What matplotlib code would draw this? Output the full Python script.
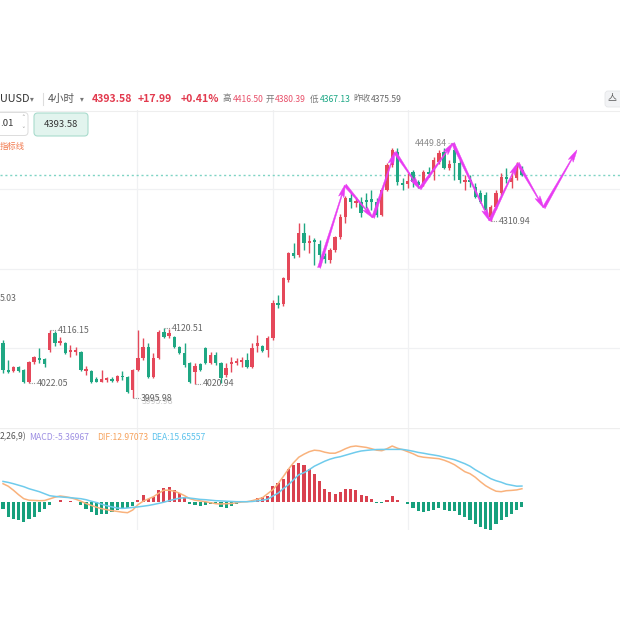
import numpy as np
import matplotlib
matplotlib.use("Agg")
import matplotlib.pyplot as plt
from matplotlib.patches import FancyBboxPatch
from matplotlib.lines import Line2D

plt.rcParams['font.family'] = ['Noto Sans CJK SC', 'DejaVu Sans']

# ── Data: 4h candles ───────────────────────────────────────────────
opens = [
    4093.9, 4045.8, 4044.0, 4051.1, 4045.8, 4024.4, 4060.0, 4067.2, 4065.4, 4081.4,
    4111.7, 4093.9, 4093.9, 4077.8, 4077.8, 4077.8, 4044.0, 4044.0, 4029.8, 4024.4,
    4028.0, 4029.8, 4026.2, 4035.1, 4033.3, 4010.2, 4045.8, 4067.2, 4086.7, 4033.3,
    4067.2, 4113.4, 4106.3, 4104.5, 4086.7, 4076.1, 4058.3, 4042.2, 4056.5, 4085.0,
    4058.3, 4072.5, 4058.3, 4036.9, 4056.5, 4058.3, 4060.0, 4063.6, 4051.1, 4088.5,
    4088.5, 4081.4, 4102.8, 4165.1, 4163.4, 4206.0, 4254.1, 4250.5, 4289.7, 4271.9,
    4277.2, 4270.1, 4248.7, 4241.6, 4259.4, 4282.5, 4318.1, 4352.0, 4343.1, 4344.8,
    4348.4, 4350.2, 4344.8, 4321.7, 4366.2, 4410.7, 4433.8, 4378.6, 4376.9, 4398.2,
    4380.4, 4378.6, 4398.2, 4398.2, 4416.0, 4433.8, 4405.4, 4437.4, 4414.3, 4380.4,
    4384.0, 4371.5, 4360.9, 4357.3, 4318.1, 4335.9, 4360.9, 4389.3, 4380.4, 4387.6,
    4401.8]
closes = [
    4045.8, 4042.2, 4051.1, 4044.0, 4024.4, 4060.0, 4068.9, 4063.6, 4056.5, 4111.7,
    4093.9, 4097.4, 4076.1, 4081.4, 4081.4, 4045.8, 4047.6, 4024.4, 4024.4, 4029.8,
    4031.6, 4026.2, 4035.1, 4033.3, 4006.6, 4045.8, 4067.2, 4086.7, 4033.3, 4067.2,
    4113.4, 4104.5, 4111.7, 4086.7, 4076.1, 4054.7, 4024.4, 4052.9, 4045.8, 4058.3,
    4072.5, 4058.3, 4031.6, 4049.4, 4060.0, 4061.8, 4063.6, 4051.1, 4085.0, 4093.9,
    4079.6, 4102.8, 4165.1, 4161.5, 4209.6, 4254.1, 4248.7, 4289.7, 4271.9, 4275.4,
    4273.6, 4250.5, 4243.4, 4259.4, 4282.5, 4318.1, 4352.0, 4344.8, 4346.6, 4325.3,
    4344.8, 4344.8, 4321.7, 4366.2, 4410.7, 4437.4, 4380.4, 4375.1, 4382.2, 4380.4,
    4375.1, 4398.2, 4394.7, 4419.6, 4432.0, 4405.4, 4412.5, 4414.3, 4384.0, 4384.0,
    4380.4, 4353.7, 4344.8, 4330.6, 4335.9, 4360.9, 4389.3, 4385.8, 4387.6, 4405.4,
    4393.58]
highs = [
    4099.2, 4063.6, 4052.9, 4052.9, 4047.6, 4061.8, 4070.7, 4085.0, 4067.2, 4116.15,
    4115.2, 4104.5, 4095.6, 4090.3, 4086.7, 4079.6, 4052.9, 4045.8, 4033.3, 4045.8,
    4033.3, 4033.3, 4036.9, 4044.0, 4035.1, 4047.6, 4117.0, 4102.8, 4093.9, 4076.1,
    4117.0, 4120.51, 4118.0, 4106.3, 4088.5, 4093.9, 4060.0, 4058.3, 4058.3, 4086.7,
    4077.8, 4077.8, 4060.0, 4058.3, 4068.9, 4067.2, 4068.9, 4076.1, 4093.9, 4108.1,
    4090.3, 4106.3, 4170.4, 4179.3, 4211.3, 4255.8, 4271.9, 4307.5, 4307.5, 4286.1,
    4280.8, 4277.2, 4254.1, 4263.0, 4284.3, 4323.5, 4355.5, 4360.9, 4353.7, 4353.7,
    4360.9, 4366.2, 4352.0, 4369.8, 4414.3, 4441.0, 4441.0, 4387.6, 4396.5, 4401.8,
    4384.0, 4401.8, 4407.1, 4425.0, 4437.4, 4441.0, 4419.6, 4449.84, 4419.6, 4392.9,
    4392.9, 4378.6, 4366.2, 4362.7, 4339.5, 4366.2, 4396.5, 4405.4, 4398.2, 4416.5,
    4409.0]
lows = [
    4040.5, 4040.5, 4042.2, 4042.2, 4023.5, 4022.05, 4056.5, 4058.3, 4051.1, 4077.8,
    4088.5, 4090.3, 4074.3, 4068.9, 4072.5, 4044.0, 4036.9, 4023.5, 4024.0, 4024.0,
    4025.0, 4025.0, 4024.4, 4028.0, 4004.8, 3995.98, 4044.0, 4063.6, 4031.6, 4031.6,
    4065.4, 4102.8, 4102.8, 4085.0, 4074.3, 4051.1, 4023.5, 4020.94, 4044.0, 4056.5,
    4056.5, 4054.7, 4023.0, 4033.3, 4042.2, 4054.7, 4051.1, 4049.4, 4049.4, 4077.8,
    4077.8, 4068.9, 4099.2, 4156.2, 4159.8, 4202.4, 4245.2, 4247.0, 4259.4, 4254.1,
    4232.7, 4232.7, 4236.3, 4236.3, 4255.8, 4278.9, 4307.5, 4334.2, 4336.0, 4318.1,
    4334.2, 4330.6, 4318.1, 4319.9, 4364.4, 4407.1, 4375.1, 4366.2, 4369.8, 4371.5,
    4369.8, 4373.3, 4389.3, 4384.0, 4412.5, 4403.6, 4401.8, 4384.0, 4378.6, 4366.2,
    4371.5, 4352.0, 4343.1, 4327.0, 4310.94, 4332.4, 4357.3, 4378.6, 4369.8, 4384.0,
    4391.0]

# MACD(12,26,9)
hist = [-7, -15, -17, -18, -20, -17, -15, -10, -7, -3,
        -0.5, 1.5, -0.5, 0.5, -0.5, -3, -7, -10, -13, -12,
        -12, -10, -8, -7, -6, -4, 2, 7, 3, 5,
        12, 14, 15, 12, 9, 5, -2, -3, -4, -3,
        -2, -2, -5, -6, -4, -2, -0.5, -0.5, 1.5, 4,
        5, 6, 16, 19, 23, 33, 37, 39, 37, 33,
        28, 21, 13, 10, 8, 10, 13, 13, 12, 7,
        6, 3, -1, -1, 2, 6, 2, -0.5, -2, -6,
        -9, -10, -9, -8, -6, -8, -9, -9, -13, -15,
        -18, -22, -25, -27, -28, -22, -18, -15, -12, -8,
        -5.37]
dif = [18, 15.5, 11.5, 7, 3, 1.5, 1.3, 1, 1.2, 2.8,
       4.5, 5.7, 5, 4, 2.5, 0.5, -1.8, -3.7, -5.5, -7,
       -8, -9, -9.7, -10.5, -11, -8.3, -3, 0.5, 2.8, 5,
       8.5, 11.5, 11.5, 10.5, 8.5, 6, 3, 1.5, 0.8, 0,
       -1, -2, -2.3, -2, -1.8, -1, -0.3, 0, 1, 2.5,
       4, 8, 12, 18, 25, 32.5, 39, 44.5, 47.5, 50,
       51.5, 51, 49.5, 48.5, 48.5, 50.5, 53, 55, 55.7, 55,
       54.3, 53, 51.5, 51, 53, 55.7, 53.5, 52, 50, 48,
       45.5, 44.5, 44, 43.5, 43, 41.5, 39.5, 37, 33.5, 30,
       28, 24.5, 20, 16, 13, 10.5, 10, 11, 11.3, 11.8,
       12.97]
dea = [20.3, 19.3, 18, 16.5, 15, 13, 11.5, 10, 8, 6,
       5.3, 4.8, 4.4, 4, 3.5, 3, 2, 0.5, -0.8, -2.5,
       -4, -5.2, -6.3, -6.7, -6.3, -5.7, -5.2, -4.5, -3.8, -2.8,
       -1.7, -0.5, 1, 2.3, 3.5, 4, 3.6, 3, 2.3, 2,
       1.5, 1, 0.8, 0.5, 0.3, 0, 0, 0, 0.2, 0.8,
       1.5, 2.5, 5.7, 8.5, 13, 17, 22, 27, 29, 32,
       35.5, 38, 40.5, 42.5, 44, 45, 46.5, 48, 49.5, 50.7,
       51.3, 51.8, 52.2, 52.3, 52.3, 52.3, 52.3, 52.3, 51.5, 50.5,
       49.3, 48.5, 47.5, 46.7, 45.8, 44.5, 43.3, 42, 40, 38,
       35.5, 32, 29, 26, 23, 21, 19.5, 17.5, 16.5, 15.5,
       15.66]

# hand-drawn zigzag (candle index, price)
zz_idx = [60.9, 65.9, 71.3, 75.5, 80.3, 86.7, 93.8, 99.2, 104.2, 110.6]
zz_price = [4227.4, 4375.1, 4316.4, 4433.8, 4368.0, 4449.8, 4311.0, 4414.3, 4334.2, 4437.4]

last_price = 4393.58
grid_prices = [4368.0, 4225.6, 4085.0]
grid_idx = [25.8, 52.0, 78.0]

RED = "#e5485a"
GREEN = "#1fa783"
MAG = "#e83cf2"
LBL = "#666666"

o = np.array(opens); c = np.array(closes)
h = np.array(highs); l = np.array(lows)
x = np.arange(len(o))
up = c >= o
col = np.where(up, RED, GREEN)

fig = plt.figure(figsize=(6.2, 6.2), dpi=100)
fig.patch.set_facecolor("white")


def fx(px):
    return px / 620


def fy(py):
    return 1 - py / 620


# ── Price panel ─────────────────────────────────────────────────────
ax = fig.add_axes([0, fy(428), 1, (428 - 110) / 620])
ax.set_xlim(-0.58, 118.9)
ax.set_ylim(3942.6, 4508.6)
ax.axis("off")
for gp in grid_prices:
    ax.axhline(gp, color="#f0f1f3", lw=0.9, zorder=0)
for gi in grid_idx:
    ax.axvline(gi, color="#f0f1f3", lw=0.9, zorder=0)
ax.axhline(last_price, color="#7fd4c4", lw=1.0, ls=(0, (1.5, 2)), zorder=1)

ax.vlines(x, l, h, colors=col, lw=1.0, zorder=2)
body = np.maximum(np.abs(c - o), 1.6)
ax.bar(x, body, bottom=np.minimum(o, c), width=0.64, color=col, lw=0, zorder=3)

# high / low markers
def mark(i, val, side="right"):
    if side == "right":
        ax.plot([i, i + 1.4], [val, val], color="#999999", lw=0.8, ls=(0, (1, 1)), zorder=4)
        ax.text(i + 1.5, val, f"{val:.2f}", fontsize=6.3, color=LBL, va="center", ha="left", zorder=5)
    else:
        ax.plot([i - 1.3, i], [val, val], color="#bbbbbb", lw=0.8, ls=(0, (1, 1)), zorder=4)
        ax.text(i - 1.4, val, f"{val:.2f}", fontsize=6.3, color="#888888", va="center", ha="right", zorder=5)

mark(9, highs[9])
mark(5, lows[5])
mark(25, lows[25])
ax.text(26.7, lows[25] - 5.5, f"{lows[25]:.2f}", fontsize=6.3, color="#c8c8c8", va="center", ha="left", zorder=4)
mark(31, highs[31])
mark(37, lows[37])
mark(87, highs[87], side="left")
mark(94, lows[94])

for k in range(len(zz_idx) - 1):
    ax.annotate("", xy=(zz_idx[k + 1], zz_price[k + 1]), xytext=(zz_idx[k], zz_price[k]),
                arrowprops=dict(arrowstyle="fancy,head_length=0.9,head_width=0.4,tail_width=0.22",
                                fc=MAG, ec=MAG, lw=0.3, mutation_scale=10,
                                shrinkA=0, shrinkB=0),
                annotation_clip=False, zorder=6)

# ── MACD panel ──────────────────────────────────────────────────────
mx = fig.add_axes([0, fy(530), 1, (530 - 428) / 620])
mx.set_xlim(-0.58, 118.9)
mx.set_ylim(-28.3, 73.7)
mx.axis("off")
mx.axhline(73.3, color="#eeeeee", lw=0.9)
for gi in grid_idx:
    mx.axvline(gi, color="#f0f1f3", lw=0.9, zorder=0)
hv = np.array(hist)
mx.bar(x, hv, width=0.6, color=np.where(hv >= 0, "#d9414f", "#17a07d"), lw=0, zorder=2)
mx.plot(x, dif, color="#f9b27c", lw=1.1, zorder=3)
mx.plot(x, dea, color="#6fcbec", lw=1.1, zorder=3)

# ── Header / toolbar texts ─────────────────────────────────────────
fig.add_artist(Line2D([0, 1], [fy(110.5)] * 2, color="#eeeeee", lw=0.8))
ty = fy(99)
fig.text(fx(0), ty, "UUSD", fontsize=7.8, color="#333333", va="center")
fig.text(fx(30), ty, "▾", fontsize=5.5, color="#777777", va="center")
fig.add_artist(Line2D([fx(43)] * 2, [fy(93), fy(105)], color="#dddddd", lw=0.8))
fig.text(fx(48), ty, "4小时", fontsize=7.6, color="#555555", va="center")
fig.text(fx(80), ty, "▾", fontsize=5.5, color="#777777", va="center")
fig.text(fx(92), ty, "4393.58", fontsize=7.6, color="#e23a4e", weight="bold", va="center")
fig.text(fx(138), ty, "+17.99", fontsize=7.6, color="#e23a4e", weight="bold", va="center")
fig.text(fx(181), ty, "+0.41%", fontsize=7.6, color="#e23a4e", weight="bold", va="center")
fig.text(fx(222), ty, "高", fontsize=6.2, color="#777777", va="center")
fig.text(fx(232.5), ty, "4416.50", fontsize=6.2, color="#e8506a", va="center")
fig.text(fx(265.5), ty, "开", fontsize=6.2, color="#777777", va="center")
fig.text(fx(275), ty, "4380.39", fontsize=6.2, color="#e8506a", va="center")
fig.text(fx(309.5), ty, "低", fontsize=6.2, color="#777777", va="center")
fig.text(fx(320), ty, "4367.13", fontsize=6.2, color="#1ba784", va="center")
fig.text(fx(353), ty, "昨收", fontsize=6.2, color="#777777", va="center")
fig.text(fx(371), ty, "4375.59", fontsize=6.2, color="#666666", va="center")
fig.add_artist(FancyBboxPatch((fx(605), fy(107)), fx(20), fx(16),
                              boxstyle="round,pad=0,rounding_size=0.005",
                              fc="#f2f3f5", ec="#e4e5e8", lw=0.6, transform=fig.transFigure))
fig.text(fx(612), fy(98.5), "亼", fontsize=6.5, color="#555555", va="center", ha="center")

# toolbar row
fig.add_artist(FancyBboxPatch((fx(-10), fy(135.5)), fx(38), fx(23),
                              boxstyle="round,pad=0,rounding_size=0.006",
                              fc="white", ec="#dcdcdc", lw=0.7, transform=fig.transFigure))
fig.text(fx(0), fy(124), ".01", fontsize=6.8, color="#333333", va="center")
fig.text(fx(23), fy(118.5), "˄", fontsize=5, color="#999999", va="center", ha="center")
fig.text(fx(23), fy(129.5), "˅", fontsize=5, color="#999999", va="center", ha="center")
fig.add_artist(FancyBboxPatch((fx(34), fy(136)), fx(54), fx(23),
                              boxstyle="round,pad=0,rounding_size=0.006",
                              fc="#e2f4ee", ec="#a9dccd", lw=0.8, transform=fig.transFigure))
fig.text(fx(61), fy(124.5), "4393.58", fontsize=6.8, color="#333333", va="center", ha="center")
fig.text(fx(0), fy(146), "指标线", fontsize=6, color="#f27a4f", va="center")
fig.text(fx(0), fy(298), "5.03", fontsize=6.3, color=LBL, va="center")

# MACD legend
my = fy(437)
fig.text(fx(0), my, "2,26,9)", fontsize=6.2, color="#555555", va="center")
fig.text(fx(29), my, "MACD:-5.36967", fontsize=6.2, color="#9d8fe3", va="center")
fig.text(fx(97), my, "DIF:12.97073", fontsize=6.2, color="#f6a35e", va="center")
fig.text(fx(151), my, "DEA:15.65557", fontsize=6.2, color="#5cc2ec", va="center")

fig.savefig("out.png", dpi=100, facecolor="white")
print("Saved: out.png")
